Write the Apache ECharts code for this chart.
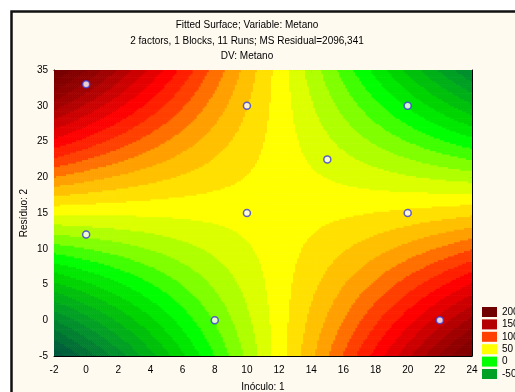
<!DOCTYPE html>
<html>
<head>
<meta charset="utf-8">
<script src="https://cdn.jsdelivr.net/npm/echarts@6/dist/echarts.min.js"></script>
<style>
  html, body { margin: 0; padding: 0; background: #fff; }
  #chart { width: 515px; height: 392px; }
</style>
</head>
<body>
<div id="chart"></div>
<script>
// design runs (Inóculo, Resíduo)
const runX = [0, 10, 20, 15, 10, 20, 0, 8, 22];
const runY = [33, 30, 30, 22.5, 15, 15, 12, 0, 0];

// fitted surface coefficients: b0, x, y, x*y, x^2, y^2
const fitCoef = [-44.8, 7.96, 6.43, -0.534, 0.03, 0];

// contour bands: lower bound of each band and its colour
const scaleLevels = [-100, -90, -80, -70, -60, -50, -40, -30, -20, -10,
  0, 10, 20, 30, 40, 50, 60, 70, 80, 90,
  100, 110, 120, 130, 140, 150, 160, 170, 180, 190, 200];
const scaleColors = ['#00583c', '#00603a', '#007034', '#008030', '#00902c', '#00a024', '#00b018', '#00c00c', '#00d400', '#00e800',
  '#00ff00', '#40ff00', '#80ff00', '#b0ff00', '#dcff00', '#ffff00', '#ffe000', '#ffc000', '#ffa000', '#ff7000',
  '#ff4000', '#ff2000', '#ff0000', '#e40000', '#cc0000', '#b40000', '#a00000', '#900000', '#840000', '#780000', '#700000'];
const legendLevels = [-50, 0, 50, 100, 150, 200];

const xRange = [-2, 24];
const yRange = [-5, 35];
const cellW = 0.125, cellH = 0.25;

function fitted(x, y) {
  const b = fitCoef;
  return b[0] + b[1] * x + b[2] * y + b[3] * x * y + b[4] * x * x + b[5] * y * y;
}

function colorOf(level) {
  return scaleColors[scaleLevels.indexOf(level)];
}

const surface = [];
for (let x = xRange[0] + cellW / 2; x < xRange[1]; x += cellW) {
  for (let y = yRange[0] + cellH / 2; y < yRange[1]; y += cellH) {
    surface.push([x, y, fitted(x, y)]);
  }
}

const bandPieces = scaleLevels.map((v, i) => {
  const p = { color: scaleColors[i] };
  if (i > 0) p.gte = v;
  if (i < scaleLevels.length - 1) p.lt = scaleLevels[i + 1];
  return p;
});

const font = 'Liberation Sans, Arial, sans-serif';
const axisCommon = {
  axisLine: { show: true, onZero: false, lineStyle: { color: '#000', width: 1 } },
  axisTick: { show: true, inside: true, length: 4, lineStyle: { color: '#000' } },
  splitLine: { show: false }
};

const chart = echarts.init(document.getElementById('chart'));
chart.setOption({
  backgroundColor: '#fff',
  animation: false,
  graphic: [{
    type: 'rect', z: -100,
    shape: { x: 11.5, y: 11.5, width: 700, height: 700 },
    style: { fill: '#fffaf0', stroke: '#111', lineWidth: 2.5 }
  }],
  title: [
    { text: 'Fitted Surface; Variable: Metano', top: 20.5 },
    { text: '2 factors, 1 Blocks, 11 Runs; MS Residual=2096,341', top: 36 },
    { text: 'DV: Metano', top: 51 }
  ].map(t => ({
    ...t, left: 247, textAlign: 'center', padding: 0,
    textStyle: { fontFamily: font, fontSize: 10, fontWeight: 'normal', color: '#000' }
  })),
  grid: { left: 54, right: 43, top: 70, bottom: 36, outerBoundsMode: 'none' },
  xAxis: [{
    type: 'value', min: xRange[0], max: xRange[1], interval: 2,
    name: 'Inóculo: 1', nameLocation: 'middle', nameGap: 26,
    nameTextStyle: { fontFamily: font, fontSize: 10, color: '#000' },
    axisLabel: { fontFamily: font, fontSize: 10, color: '#000', margin: 9 },
    ...axisCommon
  }, {
    type: 'value', position: 'top', min: xRange[0], max: xRange[1], interval: 2,
    axisLabel: { show: false }, ...axisCommon
  }],
  yAxis: [{
    type: 'value', min: yRange[0], max: yRange[1], interval: 5,
    name: 'Resíduo: 2', nameLocation: 'middle', nameGap: 25, nameMoveOverlap: false,
    nameTextStyle: { fontFamily: font, fontSize: 10, color: '#000' },
    axisLabel: { fontFamily: font, fontSize: 10, color: '#000', margin: 6 },
    ...axisCommon
  }, {
    type: 'value', position: 'right', min: yRange[0], max: yRange[1], interval: 5,
    axisLabel: { show: false }, ...axisCommon
  }],
  visualMap: [{
    type: 'piecewise', show: false, seriesIndex: 0, dimension: 2,
    pieces: bandPieces
  }, {
    type: 'piecewise', seriesIndex: 2, left: 482, top: 307, align: 'left', padding: 0,
    itemWidth: 15, itemHeight: 10, itemGap: 2.4, itemSymbol: 'rect', textGap: 5,
    selectedMode: false,
    textStyle: { fontFamily: font, fontSize: 10, color: '#000' },
    pieces: legendLevels.map(v => ({ value: v, label: String(v), color: colorOf(v) }))
  }],
  series: [{
    type: 'custom',
    clip: true,
    progressive: 0,
    data: surface,
    renderItem: (params, api) => {
      const c = api.coord([api.value(0), api.value(1)]);
      const s = api.size([cellW, cellH]);
      return {
        type: 'rect',
        shape: { x: c[0] - s[0] / 2, y: c[1] - s[1] / 2, width: s[0] + 0.6, height: s[1] + 0.6 },
        style: { fill: api.visual('color') }
      };
    }
  }, {
    type: 'scatter',
    z: 5,
    data: runX.map((x, i) => [x, runY[i]]),
    symbolSize: 7,
    itemStyle: { color: '#fff', borderColor: '#3a3ad8', borderWidth: 1.5 }
  }, {
    type: 'scatter',
    data: []
  }]
});
</script>
</body>
</html>
